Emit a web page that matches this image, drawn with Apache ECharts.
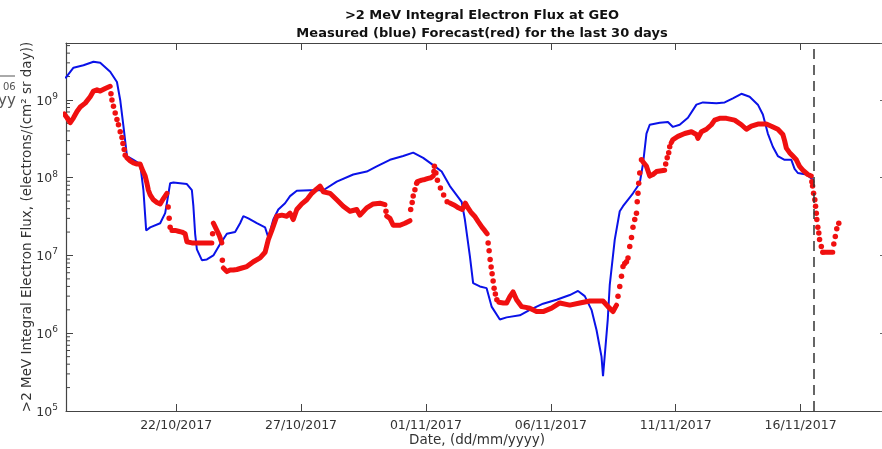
<!DOCTYPE html>
<html>
<head>
<meta charset="utf-8">
<script src="https://cdn.jsdelivr.net/npm/echarts@6/dist/echarts.min.js"></script>
<style>
  html, body { margin: 0; padding: 0; background: #fff; }
  #main { width: 882px; height: 449px; }
</style>
</head>
<body>
<div id="main"></div>
<script>
// x = day counted from 1 Oct 2017 (22 -> 22/10/2017, 32 -> 01/11/2017)
const dateTicks = [22, 27, 32, 37, 42, 47];
const nowDay = 47.52; // dashed "now" line
const xMin = 17.59, xMax = 50.5;
const yMin = 1e5, yMax = 5.4e9;

// measured flux (blue line)
const blueDays = [
  17.56, 17.89, 18.29, 18.69, 18.96, 19.36, 19.63, 19.76, 19.89, 20.03,
  20.29, 20.56, 20.69, 20.80, 20.96, 21.36, 21.56, 21.65, 21.76, 21.89,
  22.43, 22.63, 22.69, 22.76, 22.83, 23.03, 23.23, 23.49, 23.76, 24.03,
  24.36, 24.56, 24.69, 24.89, 25.23, 25.56, 25.69, 25.89, 26.09, 26.36,
  26.56, 26.83, 27.36, 27.89, 28.43, 29.09, 29.63, 30.03, 30.56, 31.09,
  31.49, 31.89, 32.36, 32.63, 32.96, 33.43, 33.56, 33.76, 33.89, 34.16,
  34.43, 34.63, 34.96, 35.23, 35.76, 36.16, 36.69, 37.23, 37.76, 38.09,
  38.36, 38.63, 38.83, 39.03, 39.09, 39.28, 39.36, 39.56, 39.76, 39.89,
  40.29, 40.56, 40.69, 40.83, 40.96, 41.36, 41.69, 41.89, 42.16, 42.49,
  42.83, 43.09, 43.63, 43.96, 44.29, 44.63, 44.96, 45.29, 45.49, 45.69,
  45.89, 46.09, 46.36, 46.63, 46.76, 46.89, 47.23, 47.52
];
const blueFlux = [
  1.9e9, 2.6e9, 2.8e9, 3.1e9, 3.0e9, 2.3e9, 1.7e9, 1.0e9, 4.6e8, 1.9e8,
  1.7e8, 1.5e8, 6.9e7, 2.1e7, 2.3e7, 2.6e7, 3.5e7, 5.2e7, 8.5e7, 8.7e7,
  8.3e7, 6.9e7, 4.3e7, 1.9e7, 1.2e7, 8.7e6, 8.9e6, 1.0e7, 1.4e7, 1.9e7,
  2.0e7, 2.6e7, 3.2e7, 3.0e7, 2.6e7, 2.3e7, 1.7e7, 2.9e7, 3.9e7, 4.7e7,
  5.8e7, 6.8e7, 6.9e7, 6.9e7, 8.9e7, 1.1e8, 1.2e8, 1.4e8, 1.7e8, 1.9e8,
  2.1e8, 1.8e8, 1.4e8, 1.2e8, 7.8e7, 4.9e7, 2.9e7, 9.8e6, 4.4e6, 4.0e6,
  3.8e6, 2.2e6, 1.5e6, 1.6e6, 1.7e6, 2.0e6, 2.4e6, 2.7e6, 3.1e6, 3.5e6,
  3.0e6, 2.0e6, 1.1e6, 5.0e5, 2.8e5, 1.5e6, 4.2e6, 1.6e7, 3.7e7, 4.3e7,
  6.3e7, 8.5e7, 1.5e8, 3.7e8, 4.8e8, 5.1e8, 5.2e8, 4.5e8, 4.8e8, 5.9e8,
  8.7e8, 9.3e8, 9.1e8, 9.3e8, 1.05e9, 1.2e9, 1.1e9, 8.7e8, 6.5e8, 3.7e8,
  2.5e8, 1.9e8, 1.7e8, 1.7e8, 1.3e8, 1.15e8, 1.1e8, 9.3e7
];

// forecast (red), dense hourly runs drawn as a thick trace; null = gap
const redDays = [
  17.52, 17.63, 17.76, 17.89, 18.03, 18.16, 18.36, 18.56, 18.69, 18.83, 18.96, 19.16, 19.36, null,
  20.03, 20.16, 20.29, 20.43, 20.56, 20.63, 20.76, 20.83, 20.89, 20.96, 21.09, 21.23, 21.36, 21.49, 21.63, null,
  21.83, 21.96, 22.09, 22.23, 22.36, 22.43, 22.50, 22.63, 22.76, 22.89, 23.03, 23.16, 23.29, 23.43, null,
  23.49, 23.53, 23.63, 23.73, 23.83, null,
  23.89, 24.03, 24.16, 24.29, 24.43, 24.63, 24.83, 25.09, 25.36, 25.56,
  25.69, 25.83, 26.03, 26.23, 26.43, 26.56, 26.69, 26.83, 27.03, 27.23,
  27.43, 27.63, 27.76, 27.89, 28.16, 28.43, 28.69, 28.96, 29.23, 29.36,
  29.63, 29.89, 30.16, 30.36, null,
  30.43, 30.56, 30.69, 30.83, 30.96, 31.16, 31.36, null,
  31.66, 31.83, 31.96, 32.09, 32.20, 32.29, null,
  32.98, 33.10, 33.20, 33.30, 33.45, 33.52, 33.58, 33.66, 33.80, 33.95, 34.10, 34.25, 34.35, 34.45, null,
  34.92, 35.10, 35.23, 35.36, 35.49, 35.63, 35.83, 36.00, 36.16, 36.43,
  36.69, 37.03, 37.36, 37.76, 38.16, 38.56, 39.09, 39.29, 39.49, 39.63, null,
  40.69, 40.76, 40.83, 40.90, 40.96, 41.09, 41.23, 41.43, 41.56, null,
  41.82, 41.89, 42.09, 42.36, 42.63, 42.83, 42.89, 43.03, 43.23, 43.43,
  43.56, 43.76, 44.03, 44.36, 44.63, 44.83, 45.03, 45.29, 45.63, 45.83,
  46.09, 46.29, 46.36, 46.43, 46.56, 46.69, 46.83, 46.96, 47.09, 47.29, 47.43, null,
  47.96, 48.03, 48.16, 48.29
];
const redFlux = [
  6.6e8, 5.9e8, 5.1e8, 5.9e8, 7.1e8, 8.1e8, 9.1e8, 1.1e9, 1.3e9, 1.35e9, 1.3e9, 1.4e9, 1.5e9, null,
  1.8e8, 1.65e8, 1.55e8, 1.5e8, 1.5e8, 1.3e8, 1.05e8, 8.5e7, 6.9e7, 6.0e7, 5.2e7, 4.8e7, 4.6e7, 5.4e7, 6.3e7, null,
  2.1e7, 2.1e7, 2.05e7, 2.0e7, 1.9e7, 1.5e7, 1.45e7, 1.45e7, 1.45e7, 1.45e7, 1.45e7, 1.45e7, 1.45e7, 1.45e7, null,
  2.6e7, 2.7e7, 2.1e7, 1.8e7, 1.45e7, null,
  6.9e6, 6.2e6, 6.5e6, 6.5e6, 6.6e6, 6.9e6, 7.2e6, 8.3e6, 9.3e6, 1.1e7,
  1.6e7, 2.1e7, 3.2e7, 3.3e7, 3.2e7, 3.5e7, 2.9e7, 3.9e7, 4.6e7, 5.2e7,
  6.3e7, 7.2e7, 7.8e7, 6.6e7, 6.3e7, 5.2e7, 4.3e7, 3.7e7, 3.9e7, 3.3e7,
  4.1e7, 4.6e7, 4.7e7, 4.5e7, null,
  3.2e7, 3.0e7, 2.45e7, 2.45e7, 2.45e7, 2.6e7, 2.8e7, null,
  8.9e7, 9.3e7, 9.5e7, 9.8e7, 1.0e8, 1.05e8, null,
  4.7e7, 4.5e7, 4.3e7, 4.1e7, 3.9e7, 4.3e7, 4.7e7, 4.2e7, 3.6e7, 3.2e7, 2.7e7, 2.3e7, 2.1e7, 1.9e7, null,
  2.5e6, 2.45e6, 2.45e6, 2.95e6, 3.4e6, 2.7e6, 2.2e6, 2.15e6, 2.1e6, 1.9e6,
  1.9e6, 2.1e6, 2.45e6, 2.3e6, 2.45e6, 2.6e6, 2.6e6, 2.2e6, 1.9e6, 2.3e6, null,
  1.6e8, 1.5e8, 1.4e8, 1.2e8, 1.05e8, 1.1e8, 1.2e8, 1.23e8, 1.25e8, null,
  2.8e8, 3.1e8, 3.4e8, 3.7e8, 3.9e8, 3.6e8, 3.2e8, 3.9e8, 4.2e8, 4.8e8,
  5.5e8, 5.8e8, 5.8e8, 5.5e8, 4.8e8, 4.2e8, 4.6e8, 4.9e8, 4.9e8, 4.6e8,
  4.2e8, 3.6e8, 3.0e8, 2.4e8, 2.1e8, 1.9e8, 1.7e8, 1.4e8, 1.25e8, 1.1e8, 1.05e8, null,
  1.1e7, 1.1e7, 1.1e7, 1.1e7
];

// forecast (red), isolated dots where the flux changes fast
const dotDays = [
  19.39, 19.43, 19.49, 19.56, 19.63, 19.69, 19.76, 19.83, 19.87, 19.92, 19.96,
  21.68, 21.72, 21.76,
  23.46, 23.85,
  30.40,
  31.39, 31.45, 31.49, 31.56, 31.63,
  32.32, 32.34, 32.40, 32.46, 32.58, 32.71, 32.85,
  34.49, 34.53, 34.57, 34.61, 34.65, 34.69, 34.73, 34.78, 34.84,
  39.69, 39.76, 39.83, 39.89, 39.96, 40.03, 40.09, 40.16, 40.23, 40.29, 40.36, 40.43, 40.46, 40.49, 40.52, 40.56, 40.63,
  41.60, 41.66, 41.72, 41.76,
  47.45, 47.48, 47.52, 47.57, 47.60, 47.63, 47.65, 47.69, 47.73, 47.76, 47.83, 47.89,
  48.33, 48.39, 48.45, 48.53
];
const dotFlux = [
  1.2e9, 1.0e9, 8.3e8, 6.8e8, 5.6e8, 4.8e8, 3.9e8, 3.3e8, 2.75e8, 2.3e8, 1.95e8,
  4.2e7, 3.0e7, 2.3e7,
  1.9e7, 8.7e6,
  3.7e7,
  3.9e7, 4.8e7, 5.8e7, 7.0e7, 8.5e7,
  1.2e8, 1.4e8, 1.15e8, 9.3e7, 7.4e7, 6.0e7, 4.9e7,
  1.45e7, 1.15e7, 8.9e6, 7.1e6, 5.8e6, 4.7e6, 3.8e6, 3.2e6, 2.7e6,
  3.0e6, 4.0e6, 5.4e6, 7.2e6, 7.9e6, 8.3e6, 9.3e6, 1.3e7, 1.7e7, 2.3e7, 2.9e7, 3.5e7, 4.9e7, 6.3e7, 8.5e7, 1.15e8, 1.7e8,
  1.5e8, 1.8e8, 2.1e8, 2.5e8,
  8.9e7, 7.8e7, 6.3e7, 5.2e7, 4.3e7, 3.5e7, 2.9e7, 2.3e7, 1.95e7, 1.6e7, 1.3e7, 1.1e7,
  1.4e7, 1.75e7, 2.2e7, 2.6e7
];

// log minor ticks 2..9 x 10^n
const minorTicks = [];
for (let e = 5; e <= 9; e++) {
  for (let m = 2; m <= 9; m++) {
    if (m * Math.pow(10, e) < yMax) minorTicks.push(m * Math.pow(10, e));
  }
}

const font = 'DejaVu Sans';
const axisColor = '#444';
const red = '#f01010';
const pad = n => (n < 10 ? '0' : '') + n;
const fmtDay = d => {
  const t = new Date(2017, 9, Math.round(d));
  return pad(t.getDate()) + '/' + pad(t.getMonth() + 1) + '/' + t.getFullYear();
};

const chart = echarts.init(document.getElementById('main'));
const option = {
  animation: false,
  backgroundColor: '#ffffff',
  title: {
    text: '>2 MeV Integral Electron Flux at GEO\nMeasured (blue) Forecast(red) for the last 30 days',
    left: 477,
    top: 2,
    textAlign: 'center',
    textStyle: { fontFamily: font, fontSize: 13, fontWeight: 'bold', color: '#111', lineHeight: 18 }
  },
  grid: { left: 66, right: -6, top: 43, bottom: 38, outerBoundsMode: 'none' },
  xAxis: [
    {
      type: 'value',
      min: xMin,
      max: xMax,
      position: 'bottom',
      axisLine: { lineStyle: { color: axisColor, width: 1.2 } },
      axisTick: { inside: true, length: 7, customValues: dateTicks, lineStyle: { color: axisColor } },
      axisLabel: {
        customValues: dateTicks,
        formatter: v => fmtDay(v),
        margin: 8,
        color: '#333',
        fontFamily: font,
        fontSize: 12.5
      },
      splitLine: { show: false },
      name: 'Date, (dd/mm/yyyy)',
      nameLocation: 'middle',
      nameGap: 22,
      nameMoveOverlap: false,
      nameTextStyle: { fontFamily: font, fontSize: 13.5, color: '#333' }
    },
    {
      type: 'value',
      min: xMin,
      max: xMax,
      position: 'top',
      axisLine: { lineStyle: { color: axisColor, width: 1.2 } },
      axisTick: { inside: true, length: 7, customValues: dateTicks, lineStyle: { color: axisColor } },
      axisLabel: { show: false },
      splitLine: { show: false }
    }
  ],
  yAxis: [
    {
      type: 'log',
      logBase: 10,
      min: yMin,
      max: yMax,
      axisLine: { show: true, lineStyle: { color: axisColor, width: 1.2 } },
      axisTick: { inside: true, length: 7, lineStyle: { color: axisColor } },
      axisLabel: {
        margin: 8,
        showMaxLabel: false,
        color: '#333',
        fontFamily: font,
        formatter: v => {
          const e = Math.log10(v);
          if (Math.abs(e - Math.round(e)) > 1e-6) return '';
          return '{b|10}{s|' + Math.round(e) + '}';
        },
        rich: {
          b: { fontFamily: font, fontSize: 12.5, color: '#333', lineHeight: 16, verticalAlign: 'bottom' },
          s: { fontFamily: font, fontSize: 9, color: '#333', lineHeight: 9, verticalAlign: 'top' }
        }
      },
      splitLine: { show: false },
      name: '>2 MeV Integral Electron Flux, (electrons/(cm² sr day))',
      nameLocation: 'middle',
      nameRotate: 90,
      nameGap: 32,
      nameMoveOverlap: false,
      nameTextStyle: { fontFamily: font, fontSize: 13.5, color: '#333' }
    },
    {
      type: 'log',
      logBase: 10,
      min: yMin,
      max: yMax,
      position: 'right',
      axisLine: { show: false },
      axisTick: { show: true, inside: true, length: 8, lineStyle: { color: '#666' } },
      axisLabel: { show: false },
      splitLine: { show: false }
    }
  ],
  graphic: [
    { type: 'line', shape: { x1: 0, y1: 76, x2: 15, y2: 76 }, style: { stroke: '#555', lineWidth: 1 } },
    { type: 'text', left: 3, top: 82, style: { text: '06', fontFamily: font, fontSize: 10, fill: '#555' } },
    { type: 'text', left: -2, top: 94, style: { text: 'yy', fontFamily: font, fontSize: 15, fill: '#555' } }
  ],
  series: [
    {
      type: 'custom',
      silent: true,
      clip: false,
      xAxisIndex: 0,
      yAxisIndex: 0,
      data: minorTicks.map(v => [xMin, v]),
      renderItem: (params, api) => {
        const p = api.coord([xMin, api.value(1)]);
        return { type: 'line', shape: { x1: p[0], y1: p[1], x2: p[0] + 4, y2: p[1] }, style: { stroke: axisColor, lineWidth: 1 } };
      }
    },
    {
      name: 'Measured',
      type: 'line',
      data: blueDays.map((d, i) => [d, blueFlux[i]]),
      showSymbol: false,
      lineStyle: { color: '#0a12e8', width: 2 },
      z: 3,
      markLine: {
        silent: true,
        symbol: ['none', 'none'],
        label: { show: false },
        lineStyle: { color: '#333', width: 1.5, type: [10, 6] },
        data: [{ xAxis: nowDay }]
      }
    },
    {
      name: 'Forecast',
      type: 'line',
      data: redDays.map((d, i) => (redFlux[i] == null ? ['-', '-'] : [d, redFlux[i]])),
      connectNulls: false,
      showSymbol: false,
      lineStyle: { color: red, width: 5, cap: 'round', join: 'round' },
      z: 4
    },
    {
      name: 'Forecast dots',
      type: 'scatter',
      data: dotDays.map((d, i) => [d, dotFlux[i]]),
      symbol: 'circle',
      symbolSize: 5.5,
      itemStyle: { color: red, opacity: 1 },
      z: 4
    }
  ]
};
chart.setOption(option);
</script>
</body>
</html>
